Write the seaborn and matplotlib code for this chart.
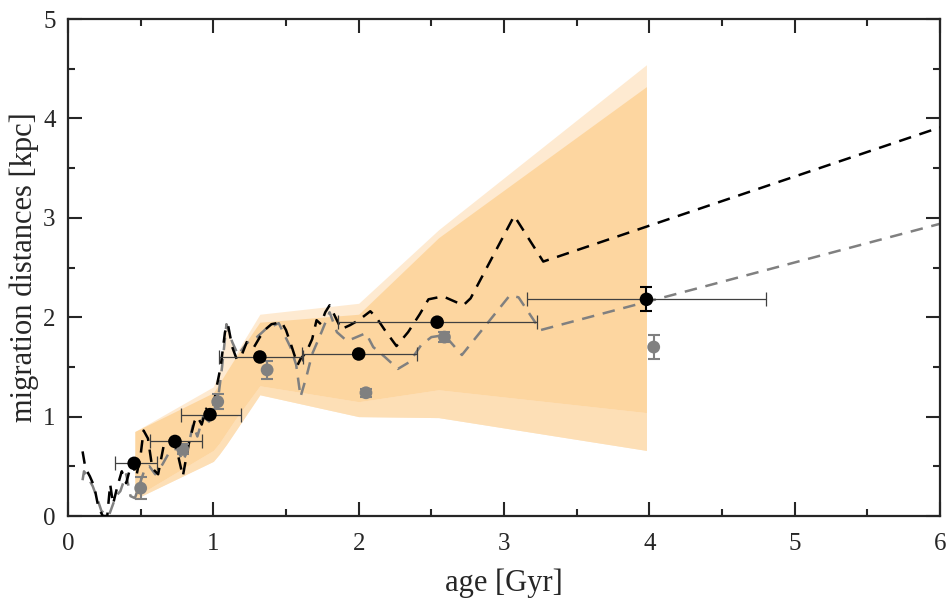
import matplotlib
matplotlib.use("Agg")
import matplotlib.pyplot as plt
import seaborn as sns
import pandas as pd

# shaded model ranges (age grid shared by the four edges)
band_age = [0.46, 1.00, 1.04, 1.09, 1.15, 1.32, 2.00, 2.55, 3.98]
outer_hi = [0.85, 1.30, 1.45, 1.94, 1.62, 2.03, 2.14, 2.88, 4.54]
inner_hi = [0.85, 1.24, 1.33, 1.45, 1.59, 1.95, 2.03, 2.80, 4.32]
inner_lo = [0.19, 0.66, 0.73, 0.84, 0.97, 1.31, 1.15, 1.27, 1.04]
outer_lo = [0.17, 0.55, 0.62, 0.72, 0.85, 1.22, 1.00, 0.99, 0.66]

# dashed model curves
black_age = [0.10, 0.12, 0.15, 0.18, 0.21, 0.24, 0.27, 0.29, 0.31, 0.34, 0.37, 0.40,
             0.44, 0.47, 0.50, 0.52, 0.55, 0.58, 0.62, 0.66, 0.70, 0.74, 0.79, 0.83,
             0.87, 0.89, 0.92, 0.95, 0.99, 1.02, 1.05, 1.08, 1.10, 1.13, 1.16, 1.19,
             1.23, 1.28, 1.32, 1.36, 1.40, 1.47, 1.50, 1.54, 1.58, 1.60, 1.64, 1.68,
             1.71, 1.74, 1.77, 1.80, 1.84, 1.88, 1.94, 2.00, 2.08, 2.12, 2.18, 2.26,
             2.34, 2.42, 2.48, 2.58, 2.72, 2.77, 3.07, 3.27, 6.00]
black_dist = [0.65, 0.48, 0.40, 0.30, 0.08, 0.00, 0.00, 0.32, 0.12, 0.30, 0.45, 0.33,
              0.55, 0.40, 0.62, 0.86, 0.78, 0.48, 0.42, 0.72, 0.76, 0.72, 0.40, 0.72,
              0.95, 1.00, 0.92, 1.08, 1.00, 1.28, 1.50, 1.85, 1.93, 1.70, 1.58, 1.60,
              1.75, 1.70, 1.80, 1.88, 1.93, 1.95, 1.87, 1.70, 1.52, 1.58, 1.65, 1.78,
              1.97, 1.93, 2.05, 2.12, 2.00, 1.88, 1.92, 1.97, 2.06, 2.00, 1.87, 1.71,
              1.85, 2.03, 2.18, 2.21, 2.12, 2.19, 3.02, 2.56, 3.91]

gray_age = [0.10, 0.11, 0.14, 0.17, 0.20, 0.23, 0.28, 0.33, 0.36, 0.40, 0.43, 0.46,
            0.50, 0.53, 0.56, 0.60, 0.65, 0.70, 0.75, 0.79, 0.82, 0.86, 0.89, 0.93,
            0.97, 1.03, 1.06, 1.09, 1.13, 1.17, 1.23, 1.30, 1.36, 1.45, 1.53, 1.57,
            1.60, 1.64, 1.68, 1.73, 1.80, 1.85, 1.92, 2.05, 2.10, 2.18, 2.27, 2.35,
            2.43, 2.50, 2.59, 2.71, 3.04, 3.10, 3.25, 6.00]
gray_dist = [0.36, 0.45, 0.38, 0.30, 0.18, 0.05, 0.00, 0.20, 0.25, 0.42, 0.20, 0.18,
             0.35, 0.48, 0.50, 0.42, 0.52, 0.65, 0.68, 0.55, 0.65, 0.92, 0.80, 1.00,
             0.95, 1.15, 1.50, 1.93, 1.75, 1.62, 1.74, 1.80, 1.88, 1.94, 1.70, 1.52,
             1.20, 1.40, 1.63, 1.80, 2.05, 1.85, 1.76, 1.84, 1.70, 1.60, 1.48, 1.55,
             1.72, 1.80, 1.82, 1.62, 2.22, 2.20, 1.87, 2.94]

# binned measurements
black_pt_age = [0.455, 0.736, 0.977, 1.32, 2.00, 2.54, 3.98]
black_pt_dist = [0.53, 0.75, 1.02, 1.60, 1.63, 1.95, 2.18]
black_age_lo = [0.32, 0.565, 0.775, 1.04, 1.61, 1.856, 3.16]
black_age_hi = [0.61, 0.925, 1.19, 1.62, 2.40, 3.23, 4.80]
black_dist_err = [0.0, 0.0, 0.0, 0.0, 0.0, 0.0, 0.12]

gray_pt_age = [0.50, 0.79, 1.03, 1.37, 2.05, 2.59, 4.03]
gray_pt_dist = [0.28, 0.67, 1.15, 1.47, 1.24, 1.80, 1.70]
gray_dist_err = [0.11, 0.05, 0.075, 0.09, 0.04, 0.05, 0.12]

sns.set_style("ticks")
plt.rcParams["font.family"] = ["Liberation Serif", "DejaVu Serif"]

fig = plt.figure(figsize=(9.5, 6.06), dpi=100)
ax = fig.add_axes([0.0716, 0.1485, 0.9179, 0.8201])

# shaded ranges
ax.fill_between(band_age, outer_lo, outer_hi, color="#FEEAD1", lw=0, zorder=1)
ax.fill_between(band_age, outer_lo, inner_lo, color="#FDDFB6", lw=0, zorder=1)
ax.fill_between(band_age, inner_lo, inner_hi, color="#FDD6A0", lw=0, zorder=1)

# dashed curves
lines = pd.DataFrame({"age": gray_age, "dist": gray_dist})
sns.lineplot(data=lines, x="age", y="dist", sort=False, ax=ax, color="#808080",
             lw=1.8, zorder=2).lines[-1].set_dashes([5, 3.5])
lines = pd.DataFrame({"age": black_age, "dist": black_dist})
sns.lineplot(data=lines, x="age", y="dist", sort=False, ax=ax, color="black",
             lw=1.8, zorder=3).lines[-1].set_dashes([5, 3.5])

# measurements with error bars
xerr = [[a - lo for a, lo in zip(black_pt_age, black_age_lo)],
        [hi - a for a, hi in zip(black_pt_age, black_age_hi)]]
ax.errorbar(black_pt_age, black_pt_dist, xerr=xerr, fmt="none", ecolor="#404040",
            elinewidth=0.9, capsize=5, capthick=0.9, zorder=4)
ax.errorbar(black_pt_age[-1:], black_pt_dist[-1:], yerr=black_dist_err[-1:], fmt="none",
            ecolor="black", elinewidth=1.5, capsize=4, capthick=1.5, zorder=4)
ax.errorbar(gray_pt_age, gray_pt_dist, yerr=gray_dist_err, fmt="none", ecolor="#808080",
            elinewidth=1.5, capsize=4, capthick=1.5, zorder=4)
sns.scatterplot(x=gray_pt_age, y=gray_pt_dist, ax=ax, color="#808080", s=85,
                edgecolor="none", zorder=5)
sns.scatterplot(x=black_pt_age, y=black_pt_dist, ax=ax, color="black", s=95,
                edgecolor="none", zorder=6)

ax.set_xlim(0, 6)
ax.set_ylim(0, 5)
ax.set_xticks([0, 1, 2, 3, 4, 5, 6])
ax.set_yticks([0, 1, 2, 3, 4, 5])
ax.set_xticks([0.5, 1.5, 2.5, 3.5, 4.5, 5.5], minor=True)
ax.set_yticks([0.5, 1.5, 2.5, 3.5, 4.5], minor=True)
ax.tick_params(which="both", direction="in", top=True, right=True, width=1.5,
               labelsize=18)
ax.tick_params(axis="x", which="major", length=10, pad=12)
ax.tick_params(axis="y", which="major", length=10, pad=9)
ax.tick_params(which="minor", length=5)
for s in ax.spines.values():
    s.set_linewidth(1.6)
    s.set_visible(True)

ax.set_xlabel("age [Gyr]", fontsize=22, labelpad=10)
ax.set_ylabel("migration distances [kpc]", fontsize=22, labelpad=3)

fig.savefig("out.png", dpi=100)
